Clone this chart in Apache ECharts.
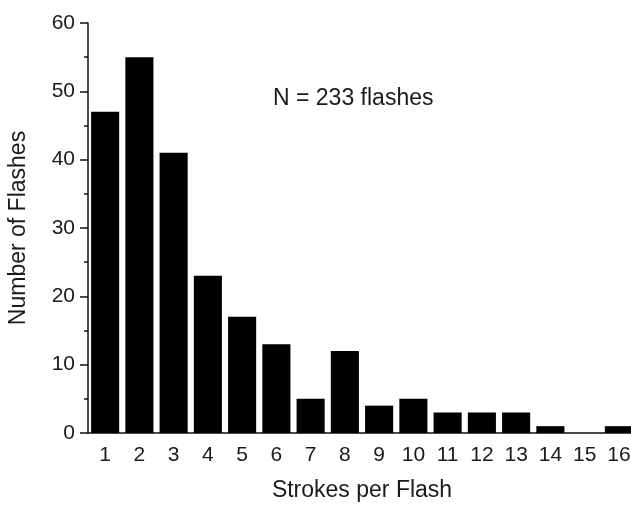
<!DOCTYPE html>
<html>
<head>
<meta charset="utf-8">
<script src="https://cdn.jsdelivr.net/npm/echarts@6/dist/echarts.min.js"></script>
<style>
  html, body { margin: 0; padding: 0; background: #fff; }
  #chart { width: 631px; height: 505px; }
</style>
</head>
<body>
<div id="chart"></div>
<script>
// strokes per flash (categories) and number of flashes
const strokes = ['1', '2', '3', '4', '5', '6', '7', '8', '9', '10', '11', '12', '13', '14', '15', '16']
const flashes = [47, 55, 41, 23, 17, 13, 5, 12, 4, 5, 3, 3, 3, 1, 0, 1]
const yTicks = { min: 0, max: 60, interval: 10 }
const note = 'N = 233 flashes'

const chart = echarts.init(document.getElementById('chart'))
const font = 'Liberation Sans, Arial, sans-serif'

const option = {
  animation: false,
  // last bar runs off the right edge in the original, so no auto fitting
  grid: { left: 88, right: -5, top: 23, bottom: 72, containLabel: false, outerBoundsMode: 'none' },
  graphic: [{
    type: 'text',
    left: 273,
    top: 87,
    style: { text: note, font: '23px ' + font, fill: '#1a1a1a' }
  }],
  xAxis: {
    type: 'category',
    data: strokes,
    name: 'Strokes per Flash',
    nameLocation: 'middle',
    nameGap: 46,
    nameTextStyle: { fontFamily: font, fontSize: 23, color: '#1a1a1a' },
    axisLine: { lineStyle: { color: '#111', width: 1.5 } },
    axisTick: { alignWithLabel: true, length: 8, lineStyle: { color: '#111', width: 1.5 } },
    axisLabel: { fontFamily: font, fontSize: 21, color: '#1a1a1a', margin: 12 },
    splitLine: { show: false }
  },
  yAxis: {
    type: 'value',
    min: yTicks.min,
    max: yTicks.max,
    interval: yTicks.interval,
    name: 'Number of Flashes',
    nameLocation: 'middle',
    nameGap: 58,
    nameTextStyle: { fontFamily: font, fontSize: 23, color: '#1a1a1a' },
    axisLine: { show: true, lineStyle: { color: '#111', width: 1.5 } },
    axisTick: { show: true, length: 8, lineStyle: { color: '#111', width: 1.5 } },
    minorTick: { show: true, splitNumber: 2, length: 4, lineStyle: { color: '#111', width: 1.5 } },
    axisLabel: { fontFamily: font, fontSize: 21, color: '#1a1a1a', margin: 13 },
    splitLine: { show: false }
  },
  series: [{
    type: 'bar',
    data: flashes,
    barCategoryGap: '18%',
    itemStyle: { color: '#000' }
  }]
}
chart.setOption(option)
</script>
</body>
</html>
